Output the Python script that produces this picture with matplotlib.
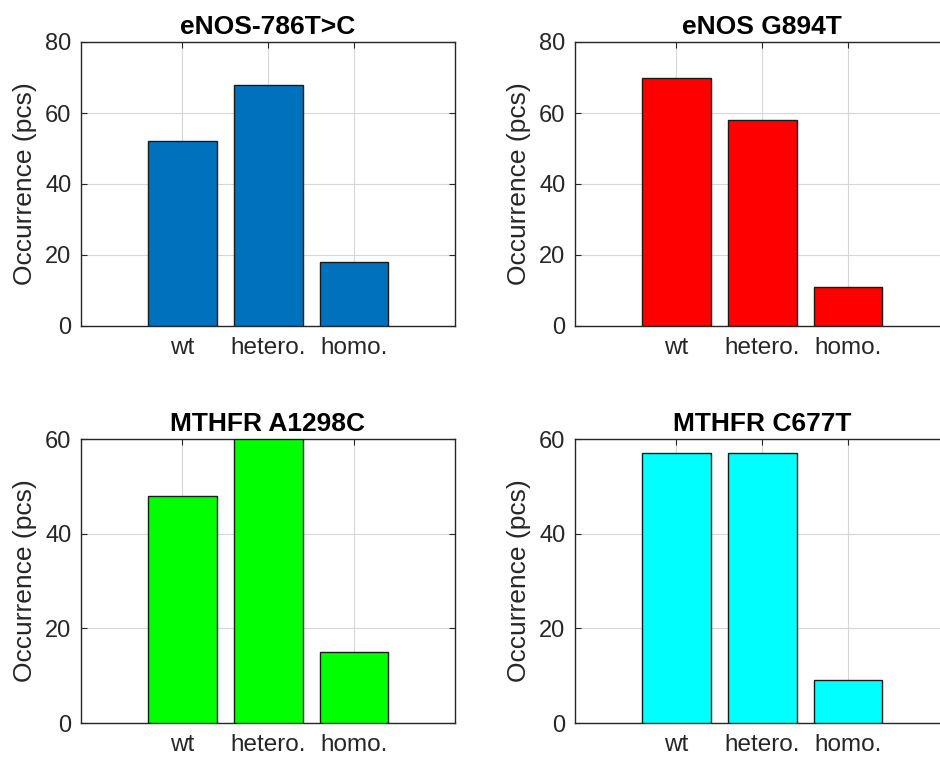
import numpy as np
import matplotlib.pyplot as plt

plt.rcParams['font.family'] = ['Liberation Sans', 'DejaVu Sans']

categories = ['wt', 'hetero.', 'homo.']
titles = ['eNOS-786T>C', 'eNOS G894T', 'MTHFR A1298C', 'MTHFR C677T']
enos_786 = [52, 68, 18]
enos_894 = [70, 58, 11]
mthfr_1298 = [48, 60, 15]
mthfr_677 = [57, 57, 9]
series = [enos_786, enos_894, mthfr_1298, mthfr_677]
colors = ['#0072BD', '#FF0000', '#00FF00', '#00FFFF']
ylims = [80, 80, 60, 60]
ytick_sets = [[0, 20, 40, 60, 80], [0, 20, 40, 60, 80], [0, 20, 40, 60], [0, 20, 40, 60]]

W, H = 940, 758
# axes boxes in pixels: left, top, right, bottom
boxes = [(81, 42, 454.5, 326), (575, 42, 948.5, 326),
         (81, 439, 454.5, 723), (575, 439, 948.5, 723)]

fig = plt.figure(figsize=(9.4, 7.58), dpi=100)
edge = '#262626'
x = np.arange(1, 4)
for i in range(4):
    l, t, r, b = boxes[i]
    ax = fig.add_axes([l / W, 1 - b / H, (r - l) / W, (b - t) / H])
    ax.bar(x, series[i], width=0.8, color=colors[i], edgecolor='#1a1a1a', linewidth=1.0, zorder=3)
    ax.set_xlim(-0.18, 4.17)
    ax.set_ylim(0, ylims[i])
    ax.set_xticks(x)
    ax.set_xticklabels(categories)
    ax.set_yticks(ytick_sets[i])
    ax.set_title(titles[i], fontsize=19, fontweight='bold', pad=6)
    ax.set_ylabel('Occurrence (pcs)', fontsize=19, color=edge, labelpad=6)
    ax.grid(True, color='#d6d6d6', linewidth=0.8, zorder=0)
    ax.tick_params(direction='in', labelsize=17, colors=edge, length=4,
                   top=True, right=True, pad=7)
    ax.tick_params(axis='x', labelsize=17.5, pad=8)
    for s in ax.spines.values():
        s.set_color(edge)
        s.set_linewidth(1.0)

fig.savefig('out.png', dpi=100)
